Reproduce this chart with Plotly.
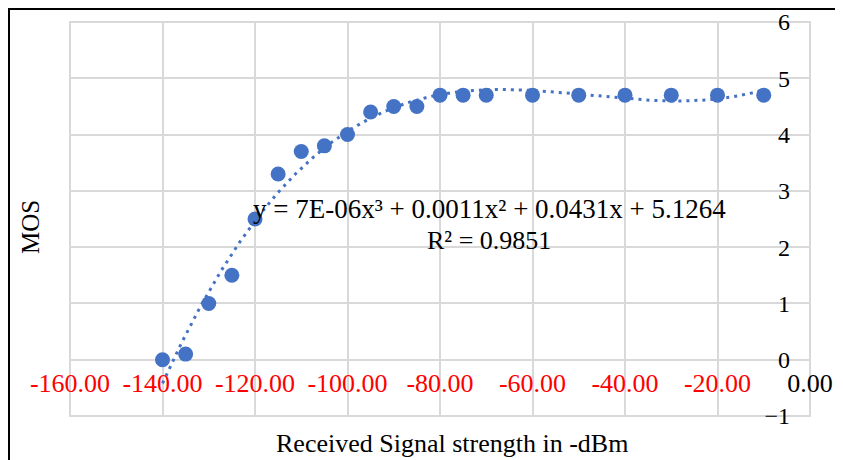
import numpy as np
import plotly.graph_objects as go

# Data
signal_dbm = [-140, -135, -130, -125, -120, -115, -110, -105, -100, -95, -90,
              -85, -80, -75, -70, -60, -50, -40, -30, -20, -10]
mos = [0.0, 0.1, 1.0, 1.5, 2.5, 3.3, 3.7, 3.8, 4.0, 4.4, 4.5,
       4.5, 4.7, 4.7, 4.7, 4.7, 4.7, 4.7, 4.7, 4.7, 4.7]
x_ticks = [-160, -140, -120, -100, -80, -60, -40, -20, 0]
x_ticklabels = ["-160.00", "-140.00", "-120.00", "-100.00", "-80.00", "-60.00",
                "-40.00", "-20.00", "<span style='color:black'>0.00</span>"]
y_ticks = [-1, 0, 1, 2, 3, 4, 5, 6]
equation_text = "y = 7E-06x³ + 0.0011x² + 0.0431x + 5.1264"
r2_text = "R² = 0.9851"

BLUE = "#4472C4"
GRID = "#d9d9d9"
FONT = "Liberation Serif"

# 3rd order polynomial trendline computed from the data
coef = np.polyfit(signal_dbm, mos, 3)
x_fit = np.linspace(min(signal_dbm), max(signal_dbm), 400)
y_fit = np.polyval(coef, x_fit)

# page body has an 8px margin, so figure coords = page coords - 8
L, R, T, B = 62, 41, 14, 52
PW = 843 - L - R
PH = 460 - T - B

fig = go.Figure()
fig.add_trace(go.Scatter(x=signal_dbm, y=mos, mode="markers",
                         marker=dict(color=BLUE, size=15), showlegend=False))
fig.add_trace(go.Scatter(x=x_fit, y=y_fit, mode="lines",
                         line=dict(color=BLUE, width=3, dash="3px,5px"),
                         showlegend=False, hoverinfo="skip"))

fig.update_layout(
    width=843, height=460,
    margin=dict(l=L, r=R, t=T, b=B, autoexpand=False),
    plot_bgcolor="white", paper_bgcolor="white",
    font=dict(family=FONT, color="black"),
    xaxis=dict(range=[-160, 0], tickvals=x_ticks, ticktext=x_ticklabels,
               showgrid=True, gridcolor=GRID, gridwidth=2, zeroline=False,
               showline=False, ticks="", anchor="free", position=1/7,
               automargin=False,
               ticklabelstandoff=5, ticklabeloverflow="allow",
               tickfont=dict(family=FONT, size=26, color="red")),
    yaxis=dict(range=[-1, 6], tickvals=y_ticks, side="right",
               ticklabelposition="inside", ticklabelstandoff=17,
               ticklabeloverflow="allow", automargin=False,
               showgrid=True, gridcolor=GRID, gridwidth=2, zeroline=False,
               showline=False, ticks="",
               tickfont=dict(family=FONT, size=24, color="black")),
    annotations=[
        dict(text="Received Signal strength in -dBm", xref="paper", yref="paper",
             x=(444 - L) / PW, y=-(435 - (T + PH)) / PH, xanchor="center", yanchor="middle",
             showarrow=False, font=dict(family=FONT, size=26, color="black")),
        dict(text="MOS", xref="paper", yref="paper", textangle=-90,
             x=(23 - L) / PW, y=1 - (219 - T) / PH, xanchor="center", yanchor="middle",
             showarrow=False, font=dict(family=FONT, size=25, color="black")),
        dict(text=equation_text, xref="x", yref="y", x=-69.4, y=2.67,
             xanchor="center", yanchor="middle", showarrow=False,
             font=dict(family=FONT, size=27, color="black")),
        dict(text=r2_text, xref="x", yref="y", x=-69.4, y=2.12,
             xanchor="center", yanchor="middle", showarrow=False,
             font=dict(family=FONT, size=26, color="black")),
    ],
    shapes=[
        dict(type="rect", xref="paper", yref="paper", x0=0, x1=1, y0=0, y1=1,
             line=dict(color=GRID, width=2), fillcolor="rgba(0,0,0,0)", layer="below"),
        dict(type="rect", xref="paper", yref="paper",
             x0=(1 - L) / PW, x1=1.3, y0=-0.3, y1=1 + (T - 1) / PH,
             line=dict(color="black", width=2), fillcolor="rgba(0,0,0,0)"),
    ],
)

fig.write_html("out.html")
